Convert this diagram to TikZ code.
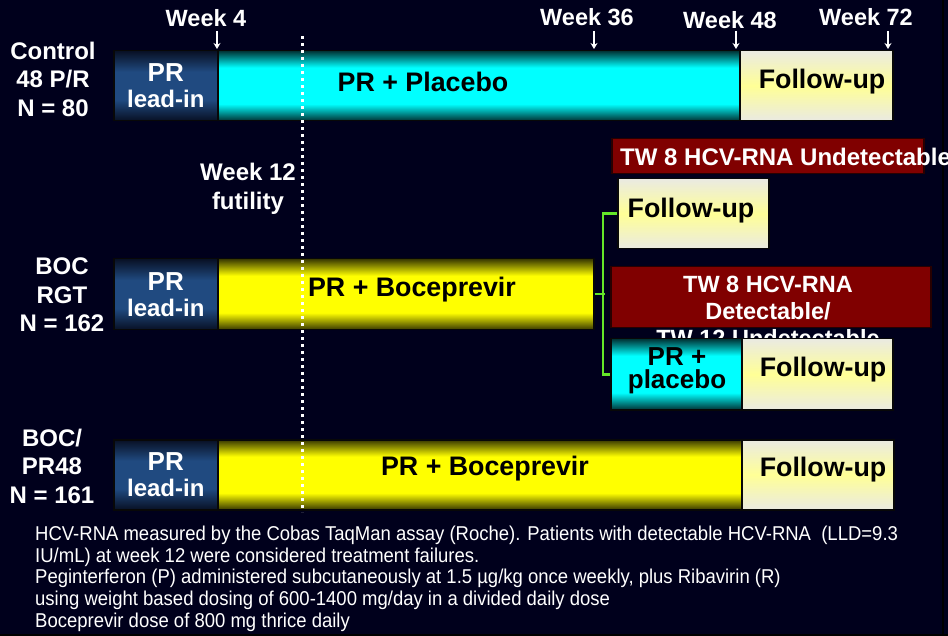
\documentclass[tikz,border=0pt]{standalone}
\usepackage{fontspec}
\setmainfont{Liberation Sans}
\newfontfamily\narrowfont{Liberation Sans}[FakeStretch=0.925]
\usetikzlibrary{arrows.meta}
\newcommand\fsz[2]{\fontsize{#1}{#2}\selectfont}
\definecolor{bg}{RGB}{0,0,28}
\definecolor{edgeline}{RGB}{8,8,8}
\definecolor{leadmid}{RGB}{32,74,128}
\definecolor{leadedge}{RGB}{8,16,36}
\definecolor{cymid}{RGB}{0,255,255}
\definecolor{cyedge}{RGB}{0,50,52}
\definecolor{yemid}{RGB}{255,255,0}
\definecolor{yeedge}{RGB}{55,55,0}
\definecolor{fumid}{RGB}{255,255,150}
\definecolor{fuedge}{RGB}{234,234,226}
\definecolor{dred}{RGB}{128,0,0}
\definecolor{dredline}{RGB}{40,0,0}
\definecolor{brkgreen}{RGB}{100,230,40}
\pgfdeclareverticalshading{leadsh}{100bp}{color(0bp)=(leadedge); color(25bp)=(leadedge); color(40bp)=(leadmid); color(60bp)=(leadmid); color(75bp)=(leadedge); color(100bp)=(leadedge)}
\pgfdeclareverticalshading{cyansh}{100bp}{color(0bp)=(cyedge); color(25bp)=(cyedge); color(37bp)=(cymid); color(63bp)=(cymid); color(75bp)=(cyedge); color(100bp)=(cyedge)}
\pgfdeclareverticalshading{yelsh}{100bp}{color(0bp)=(yeedge); color(25bp)=(yeedge); color(37bp)=(yemid); color(63bp)=(yemid); color(75bp)=(yeedge); color(100bp)=(yeedge)}
\pgfdeclareverticalshading{fush}{100bp}{color(0bp)=(fuedge); color(25bp)=(fuedge); color(50bp)=(fumid); color(75bp)=(fuedge); color(100bp)=(fuedge)}
\tikzset{
 bx/.style={draw=edgeline, line width=1.5pt, anchor=north west, inner sep=0pt, align=center, font=\bfseries},
 leadbox/.style={bx, shade, shading=leadsh, text=white, font=\bfseries\fsz{24}{26}},
 cyanbox/.style={bx, shade, shading=cyansh},
 yelbox/.style={bx, shade, shading=yelsh},
 fubox/.style={bx, shade, shading=fush},
 redbox/.style={bx, fill=dred, draw=dredline},
 lbl/.style={text=white, font=\bfseries\fsz{24}{28.5}, align=center, inner sep=0pt},
 wk/.style={text=white, font=\bfseries\fsz{23.5}{26}, inner sep=0pt},
 wkarrow/.style={white, line width=1.5pt, -{Stealth[length=6pt,width=7pt]}},
 brk/.style={draw=brkgreen, line width=2.5pt},
 dots/.style={white, line width=3pt, dash pattern=on 3pt off 4pt},
 note/.style={text=white, font=\narrowfont\fsz{20}{22}, anchor=west, inner sep=0pt},
 big/.style={font=\bfseries\fsz{26.8}{27}},
}
\begin{document}
\begin{tikzpicture}[x=1pt,y=-1pt]
\fill[bg] (0,0) rectangle (948,636);
\path[use as bounding box] (0,0) rectangle (948,636);
\draw[black, line width=1.5pt] (943,0) -- (943,636);
\draw[black, line width=2pt] (0,635) -- (948,635);

% Row 1
\node[leadbox, minimum width=104pt, minimum height=70pt] (l1) at (113,50) {{\fsz{26}{26}PR}\\lead-in};
\node[cyanbox, minimum width=522pt, minimum height=70pt] (c1) at (217,50) {};
\node[fubox, minimum width=153pt, minimum height=70pt] (f1) at (739,50) {};
\node[big] (t1) at (423,82) {PR + Placebo};
\node[big] (t2) at (822,82) {Follow-up};

% Row 2
\node[leadbox, minimum width=104pt, minimum height=71pt] (l2) at (113,258) {{\fsz{26}{26}PR}\\lead-in};
\node[yelbox, minimum width=376pt, minimum height=71pt] (y2) at (217,258) {};
\node[big] (t3) at (412,290) {PR + Boceprevir};

% Row 3
\node[leadbox, minimum width=104pt, minimum height=70pt] (l3) at (113,439) {{\fsz{26}{26}PR}\\lead-in};
\node[yelbox, minimum width=524pt, minimum height=70pt] (y3) at (217,439) {};
\node[fubox, minimum width=152pt, minimum height=70pt] (f3) at (741,439) {};
\node[big] (t4) at (485,469) {PR + Boceprevir};
\node[big] (t5) at (823,470) {Follow-up};

% Branches
\node[redbox, minimum width=312pt, minimum height=35pt] (r1) at (611,138) {};
\node[text=white, font=\bfseries\fsz{24}{26}, anchor=west, inner sep=0pt] (r1t) at (620,157) {TW 8 HCV-RNA Undetectable};
\node[fubox, minimum width=151pt, minimum height=70pt] (f2) at (617,178) {};
\node[big] (t6) at (691,211) {Follow-up};

\node[redbox, minimum width=320pt, minimum height=61pt] (r2) at (610,266) {};
\node[text=white, font=\bfseries\fsz{23.5}{27}, align=center, anchor=north, inner sep=0pt] (r2t) at (768,276) {TW 8 HCV-RNA\\Detectable/\\TW 12 Undetectable};
\node[cyanbox, minimum width=131pt, minimum height=71pt] (pp) at (610,338) {};
\node[font=\bfseries\fsz{26}{23.5}, align=center, inner sep=0pt] (t7) at (677,371) {PR +\\placebo};
\node[fubox, minimum width=151pt, minimum height=71pt] (f4) at (741,338) {};
\node[big] (t8) at (823,370) {Follow-up};

\draw[brk] (f2.west) -- ++(-14,0) |- (pp.west);
\draw[brk] (y2.east) -- ++(10,0);

% Dotted week 12 line
\coordinate (d1) at (302,36);
\coordinate (d2) at (302,512);
\draw[dots] (d1) -- (d2);

% Week labels
\node[wk] (w4) at (206,18) {Week 4};
\node[wk] (w36) at (587,17) {Week 36};
\node[wk] (w48) at (730,20) {Week 48};
\node[wk] (w72) at (866,17) {Week 72};
\coordinate (a4) at (217,31); \coordinate (b4) at (217,49);
\coordinate (a36) at (594,31); \coordinate (b36) at (594,49);
\coordinate (a48) at (736,31); \coordinate (b48) at (736,49);
\coordinate (a72) at (888,31); \coordinate (b72) at (888,49);
\draw[wkarrow] (a4) -- (b4);
\draw[wkarrow] (a36) -- (b36);
\draw[wkarrow] (a48) -- (b48);
\draw[wkarrow] (a72) -- (b72);

\node[lbl] (wk12) at (248,189) {Week 12\\futility};

% Arm labels
\node[lbl] (arm1) at (53,79) {Control\\48 P/R\\N = 80};
\node[lbl] (arm2) at (62,295) {BOC\\RGT\\N = 162};
\node[lbl] (arm3) at (52,466) {BOC/\\PR48\\N = 161};

% Notes
\node[note] (n1) at (35,535) {HCV-RNA measured by the Cobas TaqMan assay (Roche). Patients with detectable HCV-RNA \ (LLD=9.3};
\node[note] (n2) at (35,557) {IU/mL) at week 12 were considered treatment failures.};
\node[note] (n3) at (35,578) {Peginterferon (P) administered subcutaneously at 1.5 µg/kg once weekly, plus Ribavirin (R)};
\node[note] (n4) at (35,600) {using weight based dosing of 600-1400 mg/day in a divided daily dose};
\node[note] (n5) at (35,622) {Boceprevir dose of 800 mg thrice daily};
\end{tikzpicture}
\end{document}
